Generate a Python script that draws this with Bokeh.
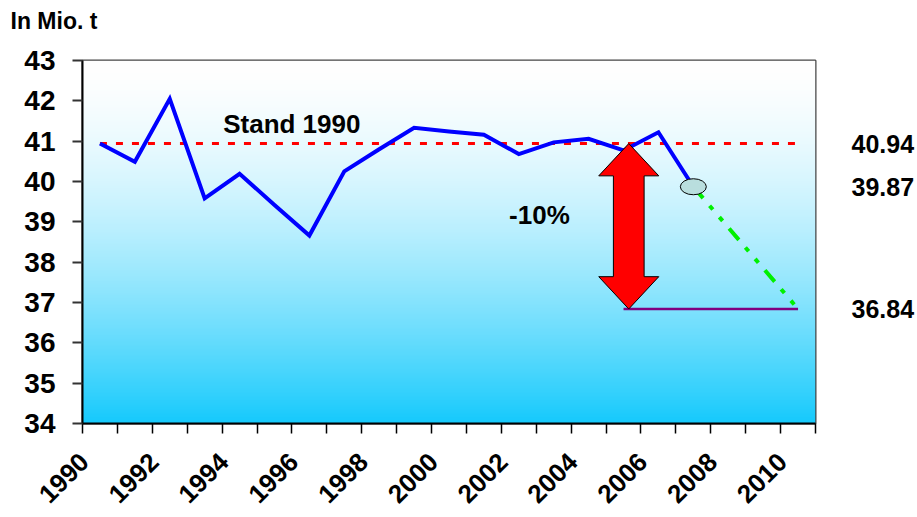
import numpy as np
from bokeh.plotting import figure
from bokeh.models import FixedTicker, Range1d, LinearAxis, Label, PrintfTickFormatter
from bokeh.embed import file_html
from bokeh.resources import INLINE

# ---- data ----
years = list(range(1990, 2008))
emissions = [40.94, 40.49, 42.05, 39.58, 40.19, 39.42, 38.66, 40.25, 40.80,
             41.33, 41.24, 41.16, 40.68, 40.97, 41.06, 40.77, 41.22, 39.87]
target_years = [2007, 2010]
target_values = [39.87, 36.84]
baseline_years = [1990, 2010]
baseline_value = 40.94
goal_years = [2005, 2010]
goal_value = 36.84
right_values = [40.94, 39.87, 36.84]
x_tick_years = list(range(1990, 2011, 2))
y_ticks = list(range(34, 44))
x_start, x_end = 1989.5, 2010.5
y_start, y_end = 34, 43

FONT = "Liberation Sans"

p = figure(width=917, height=517, output_backend="svg", toolbar_location=None,
           x_range=Range1d(x_start, x_end), y_range=Range1d(y_start, y_end),
           min_border_left=82, min_border_right=100, min_border_top=60, min_border_bottom=94,
           background_fill_color="white", border_fill_color="white")
p.grid.visible = False
p.outline_line_color = "#444444"
p.outline_line_width = 2

# unit title, top-left (second, empty line lifts it to the top edge)
p.title.text = "In Mio. t\n "
p.title.align = "left"
p.title.offset = -72
p.title.standoff = 2
p.title.text_font = FONT
p.title.text_font_style = "bold"
p.title.text_font_size = "23px"
p.title.text_color = "black"

# gradient background (white at top -> sky blue at bottom)
n = 256
yy = np.linspace(0, 1, n)            # 0 = bottom, 1 = top
t = 1 - yy                            # fraction from top
b = t ** 1.6
top_c = np.array([255, 255, 255])
bot_c = np.array([22, 202, 252])
cols = (top_c[None, :] * (1 - b[:, None]) + bot_c[None, :] * b[:, None]).astype(np.uint32)
img = np.zeros((n, 2), dtype=np.uint32)
view = img.view(dtype=np.uint8).reshape((n, 2, 4))
view[:, :, 0] = cols[:, 0][:, None]
view[:, :, 1] = cols[:, 1][:, None]
view[:, :, 2] = cols[:, 2][:, None]
view[:, :, 3] = 255
p.image_rgba(image=[img], x=x_start, y=y_start, dw=x_end - x_start, dh=y_end - y_start)

# baseline (Stand 1990)
p.line(baseline_years, [baseline_value] * 2, line_color="#ff0000", line_width=3, line_dash="7 9")
# goal line
p.line(goal_years, [goal_value] * 2, line_color="#800080", line_width=2.5)
# target path
p.line(target_years, target_values, line_color="#00f000", line_width=4, line_dash="15 10 5 10 5 10")
# emissions
p.line(years, emissions, line_color="#0000ff", line_width=4, line_join="miter")
# marker ellipse at last value
p.ellipse(x=[years[-1]], y=[emissions[-1]], width=26, height=16,
          width_units="screen", height_units="screen",
          fill_color="#b9dede", line_color="black", line_width=1)

# double arrow
ax = 2005.15
hh, sh, hl = 0.86, 0.44, 0.8
top, bot = baseline_value, goal_value
xs = [ax, ax + hh, ax + sh, ax + sh, ax + hh, ax, ax - hh, ax - sh, ax - sh, ax - hh]
ys = [top, top - hl, top - hl, bot + hl, bot + hl, bot, bot + hl, bot + hl, top - hl, top - hl]
p.patch(xs, ys, fill_color="#ff0000", line_color="black", line_width=1)

# texts
p.add_layout(Label(x=1993.53, y=41.42, text="Stand 1990", text_font=FONT, text_font_style="bold",
                   text_font_size="26px", text_color="black", text_baseline="alphabetic"))
p.add_layout(Label(x=2002.59, y=39.18, text="-10%", text_font=FONT, text_font_style="bold",
                   text_font_size="26px", text_color="black", text_align="center",
                   text_baseline="middle"))

# axes
label_shift = 0.45
xa = p.xaxis[0]
xa.ticker = FixedTicker(ticks=[yr - label_shift for yr in x_tick_years],
                        minor_ticks=[yr + 0.5 for yr in range(1989, 2011)])
xa.major_label_overrides = {yr - label_shift: str(yr) for yr in x_tick_years}
xa.major_tick_out = 0
xa.major_tick_in = 0
xa.minor_tick_out = 10
xa.minor_tick_in = 0
xa.minor_tick_line_color = "black"
xa.minor_tick_line_width = 1.5
xa.axis_line_color = "black"
xa.axis_line_width = 2
xa.major_label_orientation = np.pi / 4
xa.major_label_standoff = 24
xa.major_label_text_font = FONT
xa.major_label_text_font_style = "bold"
xa.major_label_text_font_size = "26px"
xa.major_label_text_color = "black"

ya = p.yaxis[0]
ya.ticker = FixedTicker(ticks=y_ticks)
ya.major_tick_out = 10
ya.major_tick_in = 0
ya.minor_tick_out = 0
ya.minor_tick_in = 0
ya.major_tick_line_color = "#333333"
ya.major_tick_line_width = 2
ya.axis_line_color = "black"
ya.axis_line_width = 2
ya.major_label_standoff = 17
ya.major_label_text_font = FONT
ya.major_label_text_font_style = "bold"
ya.major_label_text_font_size = "28px"
ya.major_label_text_color = "black"

ra = LinearAxis(ticker=FixedTicker(ticks=right_values), formatter=PrintfTickFormatter(format="%.2f"))
ra.axis_line_color = None
ra.major_tick_line_color = None
ra.minor_tick_line_color = None
ra.major_label_standoff = 30
ra.major_label_text_font = FONT
ra.major_label_text_font_style = "bold"
ra.major_label_text_font_size = "25px"
ra.major_label_text_color = "black"
p.add_layout(ra, "right")

open("out.html", "w").write(file_html(p, INLINE))
